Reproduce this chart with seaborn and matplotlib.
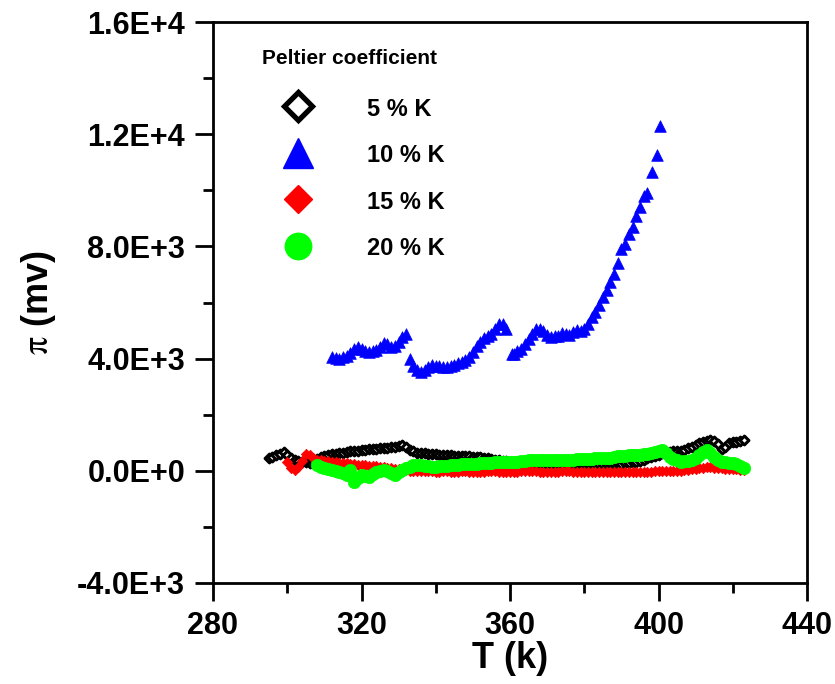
import matplotlib
matplotlib.use("Agg")
import matplotlib.pyplot as plt
import seaborn as sns
import pandas as pd
from matplotlib.lines import Line2D
from matplotlib.ticker import MultipleLocator

# ---------------- data ----------------
series_labels = ["5 % K", "10 % K", "15 % K", "20 % K"]

T_5 = [295, 296, 297, 298, 299, 300, 301, 302, 303, 304,
       305, 306, 307, 308, 309, 310, 311, 312, 313, 314,
       315, 316, 317, 318, 319, 320, 321, 322, 323, 324,
       325, 326, 327, 328, 329, 330, 331, 332, 333, 334,
       335, 336, 337, 338, 339, 340, 341, 342, 343, 344,
       345, 346, 347, 348, 349, 350, 351, 352, 353, 354,
       355, 356, 357, 358, 359, 360, 361, 362, 363, 364,
       365, 366, 367, 368, 369, 370, 371, 372, 373, 374,
       375, 376, 377, 378, 379, 380, 381, 382, 383, 384,
       385, 386, 387, 388, 389, 390, 391, 392, 393, 394,
       395, 396, 397, 398, 399, 400, 401, 402, 403, 404,
       405, 406, 407, 408, 409, 410, 411, 412, 413, 414,
       415, 416, 417, 418, 419, 420, 421, 422, 423]
pi_5 = [445, 500, 560, 610, 680, 560, 470, 400, 360, 330,
        300, 270, 330, 410, 480, 540, 570, 590, 610, 630,
        650, 670, 690, 700, 720, 730, 740, 760, 780, 790,
        800, 810, 820, 840, 860, 890, 920, 840, 750, 690,
        650, 630, 620, 610, 600, 590, 580, 570, 560, 550,
        540, 530, 520, 510, 510, 500, 500, 490, 470, 450,
        420, 390, 370, 350, 340, 330, 320, 310, 300, 290,
        280, 270, 260, 250, 240, 230, 220, 220, 210, 210,
        200, 200, 200, 190, 190, 190, 190, 200, 200, 200,
        210, 220, 230, 240, 250, 260, 270, 290, 310, 330,
        360, 400, 440, 480, 520, 560, 620, 660, 680, 690,
        700, 720, 740, 800, 860, 920, 980, 1030, 1070, 1100,
        1050, 950, 780, 860, 980, 1010, 1030, 1060, 1100]

T_10 = [312, 313, 314, 315, 316, 317, 318, 319, 320, 321,
        322, 323, 324, 325, 326, 327, 328, 329, 330, 331,
        332, 333, 334, 335, 336, 337, 338, 339, 340, 341,
        342, 343, 344, 345, 346, 347, 348, 349, 350, 351,
        352, 353, 354, 355, 356, 357, 358, 359, 360.6, 361,
        362, 363, 364, 365, 366, 367, 368, 369, 370, 371,
        372, 373, 374, 375, 376, 377, 378, 379, 380, 381,
        382, 383, 384, 385, 386, 387, 388, 389, 390, 391,
        392, 393, 394, 395, 396, 397, 398.3, 399.7, 400.5]
pi_10 = [4070, 4030, 3990, 4050, 4090, 4200, 4330, 4410, 4350, 4260,
         4240, 4270, 4310, 4420, 4570, 4520, 4400, 4450, 4580, 4760,
         4880, 3990, 3750, 3600, 3530, 3600, 3700, 3770, 3730, 3720,
         3700, 3710, 3730, 3770, 3830, 3880, 3960, 4060, 4250, 4450,
         4590, 4720, 4800, 4880, 5050, 5230, 5250, 5050, 4150, 4180,
         4270, 4350, 4530, 4700, 4880, 5060, 5050, 5000, 4850, 4780,
         4790, 4800, 4900, 4870, 4830, 4950, 5020, 4980, 5050, 5250,
         5480, 5650, 5900, 6180, 6450, 6730, 7000, 7400, 7900, 8100,
         8450, 8700, 9100, 9400, 9800, 9900, 10660, 11250, 12290]

T_15 = [300, 301, 302, 303, 304, 305, 306, 307, 308, 309,
        310, 311, 312, 313, 314, 315, 316, 317, 318, 319,
        320, 321, 322, 323, 324, 325, 326, 327, 328, 329,
        330, 331, 332, 333, 334, 335, 336, 337, 338, 339,
        340, 341, 342, 343, 344, 345, 346, 347, 348, 349,
        350, 351, 352, 353, 354, 355, 356, 357, 358, 359,
        360, 361, 362, 363, 364, 365, 366, 367, 368, 369,
        370, 371, 372, 373, 374, 375, 376, 377, 378, 379,
        380, 381, 382, 383, 384, 385, 386, 387, 388, 389,
        390, 391, 392, 393, 394, 395, 396, 397, 398, 399,
        400, 401, 402, 403, 404, 405, 406, 407, 408, 409,
        410, 411, 412, 413, 414, 415, 416, 417, 418, 419,
        420, 421, 422, 423]
pi_15 = [325, 100, 30, 150, 350, 600, 560, 450, 400, 380,
         360, 340, 325, 310, 290, 280, 270, 260, 240, 220,
         200, 190, 180, 170, 160, 150, 130, 110, 90, 70,
         50, 30, 20, 10, 0, -10, -10, -20, -20, -20,
         -30, -30, -20, -20, -30, -30, -30, -20, -20, -30,
         -30, -30, -30, -30, -20, -20, -20, -30, -30, -30,
         -30, -30, -30, -20, -20, -20, -20, -20, -30, -30,
         -30, -30, -30, -30, -20, -20, -20, -30, -30, -30,
         -30, -30, -30, -40, -40, -40, -40, -40, -40, -40,
         -40, -40, -40, -40, -40, -30, -30, -30, -30, -20,
         -20, -20, -10, -10, -10, 0, 0, 20, 40, 60,
         80, 100, 110, 120, 120, 110, 100, 90, 80, 70,
         60, 50, 40, 30]

T_20 = [308, 309, 310, 311, 312, 313, 314, 315, 316, 317,
        318, 319, 320, 321, 322, 323, 324, 325, 326, 327,
        328, 329, 330, 331, 332, 333, 334, 335, 336, 337,
        338, 339, 340, 341, 342, 343, 344, 345, 346, 347,
        348, 349, 350, 351, 352, 353, 354, 355, 356, 357,
        358, 359, 360, 361, 362, 363, 364, 365, 366, 367,
        368, 369, 370, 371, 372, 373, 374, 375, 376, 377,
        378, 379, 380, 381, 382, 383, 384, 385, 386, 387,
        388, 389, 390, 391, 392, 393, 394, 395, 396, 397,
        398, 399, 400, 401, 402, 403, 404, 405, 406, 407,
        408, 409, 410, 411, 412, 413, 414, 415, 416, 417,
        418, 419, 420, 421, 422, 423]
pi_20 = [205, 150, 100, 60, 30, 0, -30, -90, -150, 30,
         -390, -250, -150, -180, -210, -120, -30, 0, 30, 0,
         -80, -150, -50, 30, 100, 150, 190, 205, 190, 170,
         160, 150, 150, 160, 170, 180, 195, 205, 215, 225,
         235, 245, 255, 260, 265, 270, 280, 290, 300, 310,
         320, 325, 325, 325, 330, 340, 350, 370, 385, 380,
         375, 380, 385, 385, 385, 380, 385, 390, 395, 400,
         405, 410, 415, 420, 430, 440, 445, 450, 460, 470,
         490, 510, 530, 540, 550, 560, 570, 580, 590, 600,
         620, 660, 710, 740, 620, 500, 430, 370, 330, 340,
         360, 385, 450, 560, 660, 740, 620, 500, 400, 330,
         300, 280, 265, 230, 170, 90]

x_ticks = [280, 320, 360, 400, 440]
y_ticks = [-4000, 0, 4000, 8000, 12000, 16000]
y_tick_labels = ["-4.0E+3", "0.0E+0", "4.0E+3", "8.0E+3", "1.2E+4", "1.6E+4"]

# ---------------- style ----------------
sns.set_style("ticks")
plt.rcParams["font.family"] = ["Liberation Sans", "DejaVu Sans"]
plt.rcParams["mathtext.fontset"] = "stix"
for key in ["text.color", "axes.labelcolor", "xtick.color", "ytick.color",
            "axes.edgecolor"]:
    plt.rcParams[key] = "black"

fig = plt.figure(figsize=(8.35, 6.84), dpi=100)
ax = fig.add_axes([213 / 835, 101 / 684, 594 / 835, 561 / 684])

styles = [
    dict(marker="D", s=20, color="white", edgecolor="black", linewidth=2.2),
    dict(marker="^", s=70, color="blue", edgecolor="blue", linewidth=0.5),
    dict(marker="D", s=28, color="red", edgecolor="red", linewidth=0.5),
    dict(marker="o", s=80, color="#00ff00", edgecolor="#00ff00", linewidth=0.5),
]
data = [(T_5, pi_5), (T_10, pi_10), (T_15, pi_15), (T_20, pi_20)]

for (tx, py), st, lab in zip(data, styles, series_labels):
    df = pd.DataFrame({"T": tx, "pi": py})
    sns.scatterplot(data=df, x="T", y="pi", ax=ax, legend=False, **st)

ax.set_xlim(280, 440)
ax.set_ylim(-4000, 16000)
ax.set_xticks(x_ticks)
ax.set_xticklabels([str(v) for v in x_ticks])
ax.set_yticks(y_ticks)
ax.set_yticklabels(y_tick_labels)
ax.xaxis.set_minor_locator(MultipleLocator(20))
ax.yaxis.set_minor_locator(MultipleLocator(2000))

for sp in ax.spines.values():
    sp.set_linewidth(2)
    sp.set_color("black")

ax.tick_params(axis="both", which="major", direction="out", length=13, width=2,
               labelsize=22, pad=7, top=False, right=False, colors="black")
ax.tick_params(axis="both", which="minor", direction="out", length=7, width=2,
               top=False, right=False, colors="black")
for lbl in ax.get_xticklabels() + ax.get_yticklabels():
    lbl.set_fontweight("bold")

ax.set_xlabel("T (k)", fontsize=26, fontweight="bold", labelpad=0, color="black")
ax.set_ylabel(r"$\mathrm{\pi}$ (mv)", fontsize=26, fontweight="bold", labelpad=14,
              color="black")

# legend
handles = [
    Line2D([], [], linestyle="none", marker="D", markersize=14, markerfacecolor="white",
           markeredgecolor="black", markeredgewidth=3.8),
    Line2D([], [], linestyle="none", marker="^", markersize=21, markerfacecolor="blue",
           markeredgecolor="blue"),
    Line2D([], [], linestyle="none", marker="D", markersize=14, markerfacecolor="red",
           markeredgecolor="red"),
    Line2D([], [], linestyle="none", marker="o", markersize=19, markerfacecolor="#00ff00",
           markeredgecolor="#00ff00"),
]
leg = ax.legend(handles, series_labels, loc="upper left",
                bbox_to_anchor=((262 - 213) / 594, (583 - 97) / 561),
                frameon=False, borderaxespad=0, borderpad=0,
                prop={"weight": "bold", "size": 17},
                handlelength=3.05, handletextpad=1.4, labelspacing=0.97,
                handleheight=1.0)
for t in leg.get_texts():
    t.set_color("black")
fig.text(262 / 835, 1 - 59 / 684, "Peltier coefficient", fontsize=15,
         fontweight="bold", ha="left", va="center", color="black")

fig.savefig("out.png", dpi=100)
